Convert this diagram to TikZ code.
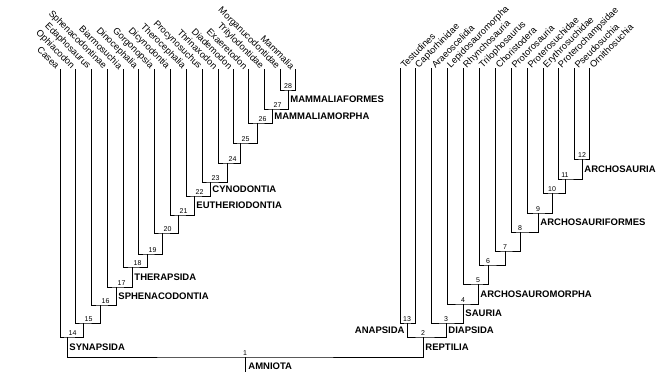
\documentclass[tikz,border=0pt]{standalone}
\usepackage{fontspec}
\setmainfont{Liberation Sans}
\begin{document}
\begin{tikzpicture}[x=1pt, y=-1pt, line width=0.9pt,
  ltip/.style = {xshift=-1.5pt, yshift=1pt, rotate=-45, anchor=east, inner sep=0.5pt, font=\fontsize{9.3}{10}\selectfont},
  rtip/.style = {xshift=1.5pt, yshift=1pt, rotate=45, anchor=west, inner sep=0.5pt, font=\fontsize{9.3}{10}\selectfont},
  lnum/.style = {anchor=south west, inner sep=1.2pt, font=\fontsize{7}{8}\selectfont},
  rnum/.style = {anchor=south, inner sep=1.2pt, font=\fontsize{7}{8}\selectfont},
  clade/.style = {anchor=west, inner sep=1pt, font=\bfseries\fontsize{9.5}{10}\selectfont}]
\useasboundingbox (0,0) rectangle (672,372);

\coordinate (casea) at (60,69);
\coordinate (ophiacodon) at (75,69);
\coordinate (edaphosaurus) at (91,69);
\coordinate (sphenacodontinae) at (107,69);
\coordinate (biarmosuchia) at (123,69);
\coordinate (dinocephalia) at (138,69);
\coordinate (gorgonopsia) at (154,69);
\coordinate (dicynodontia) at (170,69);
\coordinate (therocephalia) at (186,69);
\coordinate (procynosuchus) at (202,69);
\coordinate (thrinaxodon) at (218,69);
\coordinate (diademodon) at (233,69);
\coordinate (exaeretodon) at (248,69);
\coordinate (tritylodontidae) at (264,69);
\coordinate (morganucodontidae) at (280,69);
\coordinate (mammalia) at (295,69);

\coordinate (testudines) at (400,68);
\coordinate (captorhinidae) at (415,68);
\coordinate (araeoscelidia) at (431,68);
\coordinate (lepidosauromorpha) at (447,68);
\coordinate (rhynchosauria) at (463,68);
\coordinate (trilophosaurus) at (479,68);
\coordinate (choristodera) at (495,68);
\coordinate (protorosauria) at (511,68);
\coordinate (proterosuchidae) at (527,68);
\coordinate (erythrosuchidae) at (543,68);
\coordinate (proterochampsidae) at (558,68);
\coordinate (pseudosuchia) at (574,68);
\coordinate (ornithosuchia) at (589,68);

\coordinate (n1) at (245,357);
\coordinate (base) at (245,372);
\coordinate (n2) at (423,337);
\coordinate (n3) at (446,323);
\coordinate (n4) at (463,304);
\coordinate (n5) at (478,284);
\coordinate (n6) at (488,265);
\coordinate (n7) at (505,251);
\coordinate (n8) at (520,232);
\coordinate (n9) at (538,213);
\coordinate (n10) at (552,193);
\coordinate (n11) at (565,179);
\coordinate (n12) at (582,159);
\coordinate (n13) at (407,323);
\coordinate (n14) at (67,337);
\coordinate (n15) at (83,323);
\coordinate (n16) at (100,305);
\coordinate (n17) at (116,287);
\coordinate (n18) at (132,267);
\coordinate (n19) at (147,254);
\coordinate (n20) at (162,233);
\coordinate (n21) at (178,215);
\coordinate (n22) at (194,196);
\coordinate (n23) at (210,182);
\coordinate (n24) at (227,163);
\coordinate (n25) at (240,143);
\coordinate (n26) at (257,123);
\coordinate (n27) at (272,109);
\coordinate (n28) at (288,90);

\node[ltip] (lcasea) at (casea) {Casea};
\node[ltip] (lophiacodon) at (ophiacodon) {Ophiacodon};
\node[ltip] (ledaphosaurus) at (edaphosaurus) {Edaphosaurus};
\node[ltip] (lsphenacodontinae) at (sphenacodontinae) {Sphenacodontinae};
\node[ltip] (lbiarmosuchia) at (biarmosuchia) {Biarmosuchia};
\node[ltip] (ldinocephalia) at (dinocephalia) {Dinocephalia};
\node[ltip] (lgorgonopsia) at (gorgonopsia) {Gorgonopsia};
\node[ltip] (ldicynodontia) at (dicynodontia) {Dicynodontia};
\node[ltip] (ltherocephalia) at (therocephalia) {Therocephalia};
\node[ltip] (lprocynosuchus) at (procynosuchus) {Procynosuchus};
\node[ltip] (lthrinaxodon) at (thrinaxodon) {Thrinaxodon};
\node[ltip] (ldiademodon) at (diademodon) {Diademodon};
\node[ltip] (lexaeretodon) at (exaeretodon) {Exaeretodon};
\node[ltip] (ltritylodontidae) at (tritylodontidae) {Tritylodontidae};
\node[ltip] (lmorganucodontidae) at (morganucodontidae) {Morganucodontidae};
\node[ltip] (lmammalia) at (mammalia) {Mammalia};

\node[rtip] (ltestudines) at (testudines) {Testudines};
\node[rtip] (lcaptorhinidae) at (captorhinidae) {Captorhinidae};
\node[rtip] (laraeoscelidia) at (araeoscelidia) {Araeoscelidia};
\node[rtip] (llepidosauromorpha) at (lepidosauromorpha) {Lepidosauromorpha};
\node[rtip] (lrhynchosauria) at (rhynchosauria) {Rhynchosauria};
\node[rtip] (ltrilophosaurus) at (trilophosaurus) {Trilophosaurus};
\node[rtip] (lchoristodera) at (choristodera) {Choristodera};
\node[rtip] (lprotorosauria) at (protorosauria) {Protorosauria};
\node[rtip] (lproterosuchidae) at (proterosuchidae) {Proterosuchidae};
\node[rtip] (lerythrosuchidae) at (erythrosuchidae) {Erythrosuchidae};
\node[rtip] (lproterochampsidae) at (proterochampsidae) {Proterochampsidae};
\node[rtip] (lpseudosuchia) at (pseudosuchia) {Pseudosuchia};
\node[rtip] (lornithosuchia) at (ornithosuchia) {Ornithosuchia};

\draw (casea) |- (n14) -| (n15);
\draw (ophiacodon) |- (n15) -| (n16);
\draw (edaphosaurus) |- (n16) -| (n17);
\draw (sphenacodontinae) |- (n17) -| (n18);
\draw (biarmosuchia) |- (n18) -| (n19);
\draw (dinocephalia) |- (n19) -| (n20);
\draw (gorgonopsia) |- (n20) -| (n21);
\draw (dicynodontia) |- (n21) -| (n22);
\draw (therocephalia) |- (n22) -| (n23);
\draw (procynosuchus) |- (n23) -| (n24);
\draw (thrinaxodon) |- (n24) -| (n25);
\draw (diademodon) |- (n25) -| (n26);
\draw (exaeretodon) |- (n26) -| (n27);
\draw (tritylodontidae) |- (n27) -| (n28);
\draw (morganucodontidae) |- (n28) -| (mammalia);

\draw (testudines) |- (n13) -| (captorhinidae);
\draw (n13) |- (n2) -| (n3);
\draw (araeoscelidia) |- (n3) -| (n4);
\draw (lepidosauromorpha) |- (n4) -| (n5);
\draw (rhynchosauria) |- (n5) -| (n6);
\draw (trilophosaurus) |- (n6) -| (n7);
\draw (choristodera) |- (n7) -| (n8);
\draw (protorosauria) |- (n8) -| (n9);
\draw (proterosuchidae) |- (n9) -| (n10);
\draw (erythrosuchidae) |- (n10) -| (n11);
\draw (proterochampsidae) |- (n11) -| (n12);
\draw (pseudosuchia) |- (n12) -| (ornithosuchia);

\draw (n14) |- (n1) -| (n2);
\draw (n1) -- (base);

\node[rnum] (k1) at (n1) {1};
\node[rnum] (k2) at (n2) {2};
\node[rnum] (k3) at (n3) {3};
\node[rnum] (k4) at (n4) {4};
\node[rnum] (k5) at (n5) {5};
\node[rnum] (k6) at (n6) {6};
\node[rnum] (k7) at (n7) {7};
\node[rnum] (k8) at (n8) {8};
\node[rnum] (k9) at (n9) {9};
\node[rnum] (k10) at (n10) {10};
\node[rnum] (k11) at (n11) {11};
\node[rnum] (k12) at (n12) {12};
\node[rnum] (k13) at (n13) {13};
\node[lnum] (k14) at (n14) {14};
\node[lnum] (k15) at (n15) {15};
\node[lnum] (k16) at (n16) {16};
\node[lnum] (k17) at (n17) {17};
\node[lnum] (k18) at (n18) {18};
\node[lnum] (k19) at (n19) {19};
\node[lnum] (k20) at (n20) {20};
\node[lnum] (k21) at (n21) {21};
\node[lnum] (k22) at (n22) {22};
\node[lnum] (k23) at (n23) {23};
\node[lnum] (k24) at (n24) {24};
\node[lnum] (k25) at (n25) {25};
\node[lnum] (k26) at (n26) {26};
\node[lnum] (k27) at (n27) {27};
\node[rnum] (k28) at (n28) {28};

\node[clade] (amniota) at (247,366) {AMNIOTA};
\node[clade] (synapsida) at (68,347) {SYNAPSIDA};
\node[clade] (sphenacodontia) at (117,296) {SPHENACODONTIA};
\node[clade] (therapsida) at (133,277) {THERAPSIDA};
\node[clade] (eutheriodontia) at (195,205) {EUTHERIODONTIA};
\node[clade] (cynodontia) at (211,189) {CYNODONTIA};
\node[clade] (mammaliamorpha) at (273,116) {MAMMALIAMORPHA};
\node[clade] (mammaliaformes) at (289,99.5) {MAMMALIAFORMES};
\node[clade] (reptilia) at (424,347) {REPTILIA};
\node[clade, anchor=east] (anapsida) at (406,330) {ANAPSIDA};
\node[clade] (diapsida) at (447,330) {DIAPSIDA};
\node[clade] (sauria) at (464,313) {SAURIA};
\node[clade] (archosauromorpha) at (479,294) {ARCHOSAUROMORPHA};
\node[clade] (archosauriformes) at (539,222.5) {ARCHOSAURIFORMES};
\node[clade] (archosauria) at (583,169) {ARCHOSAURIA};
\end{tikzpicture}
\end{document}
